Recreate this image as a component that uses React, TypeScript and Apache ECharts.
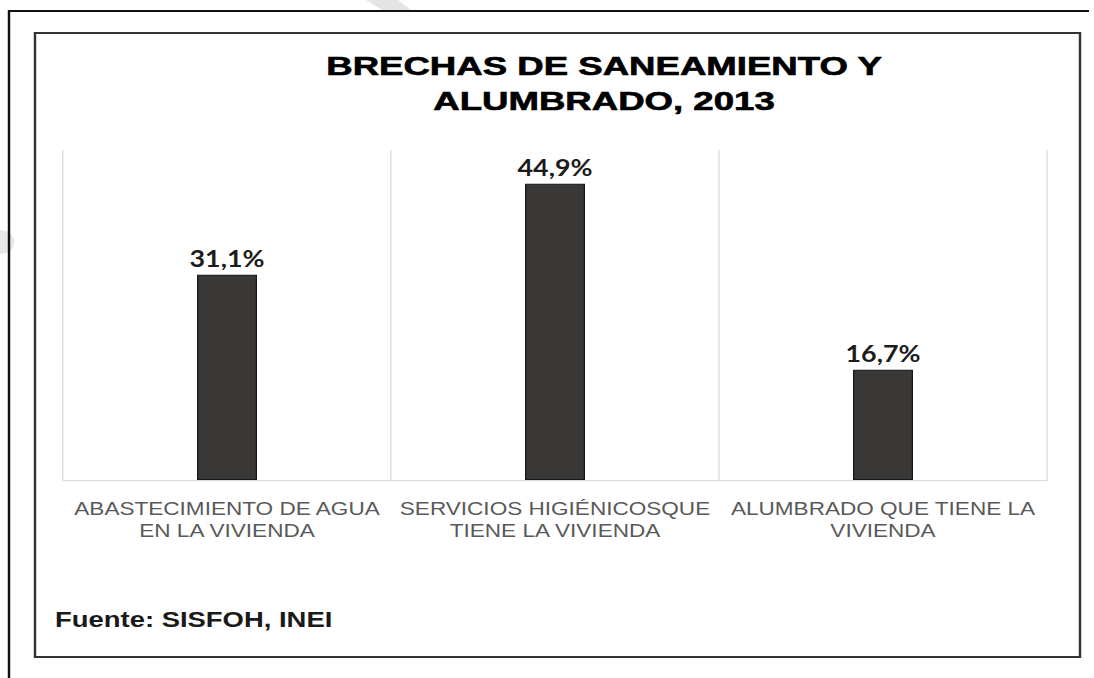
import React, { useEffect, useRef } from "react";
import * as echarts from "echarts";

const categories = [
  "ABASTECIMIENTO DE AGUA\nEN LA VIVIENDA",
  "SERVICIOS HIGIÉNICOSQUE\nTIENE LA VIVIENDA",
  "ALUMBRADO QUE TIENE LA\nVIVIENDA",
];
const values = [31.1, 44.9, 16.7];
const titleLines = ["BRECHAS DE SANEAMIENTO Y", "ALUMBRADO, 2013"];
const sourceText = "Fuente: SISFOH, INEI";

const PAGE_W = 1094;
const PAGE_H = 678;
const CW = 897; // chart width before horizontal stretch
const S = PAGE_W / CW; // horizontal stretch of the reference picture

export default function App() {
  const ref = useRef<HTMLDivElement>(null);

  useEffect(() => {
    if (!ref.current) return;
    const chart = echarts.init(ref.current, undefined, { renderer: "svg" });
    const fmt = (v: number) => v.toFixed(1).replace(".", ",") + "%";
    chart.setOption({
      animation: false,
      grid: {
        left: 63 / S,
        right: CW - 1047 / S,
        top: 150,
        bottom: PAGE_H - 480,
        containLabel: false,
      },
      xAxis: {
        type: "category",
        data: categories,
        axisLine: { show: true, lineStyle: { color: "#d9d9d9", width: 1 } },
        axisTick: { show: false },
        splitLine: { show: true, interval: 0, lineStyle: { color: "#d9d9d9", width: 1 } },
        axisLabel: {
          interval: 0,
          margin: 17,
          color: "#595959",
          fontFamily: "Liberation Sans, Arial, sans-serif",
          fontSize: 18.5,
          lineHeight: 22,
        },
      },
      yAxis: {
        type: "value",
        min: 0,
        max: 50,
        show: false,
        splitLine: { show: false },
      },
      series: [
        {
          type: "bar",
          data: values,
          barWidth: 60 / S,
          silent: true,
          itemStyle: { color: "#3a3836", borderColor: "#161616", borderWidth: 1 },
          label: {
            show: true,
            position: "top",
            distance: 5,
            formatter: (p: any) => fmt(p.value),
            color: "#1c1c1c",
            fontFamily: "Lato, sans-serif",
            fontWeight: "bold",
            fontSize: 22,
          },
        },
      ],
      graphic: [
        {
          type: "circle",
          z: -10,
          shape: { cx: 0, cy: 242, r: 12 },
          style: { fill: "#e8e8e8" },
          silent: true,
        },
        {
          type: "polygon",
          z: -10,
          shape: {
            points: [
              [366 / S, 0],
              [398 / S, 0],
              [412 / S, 11],
              [384 / S, 11],
            ],
          },
          style: { fill: "#e4e4e4" },
          silent: true,
        },
        {
          type: "line",
          shape: { x1: 9 / S, y1: 10, x2: 9 / S, y2: PAGE_H + 10 },
          style: { stroke: "#111111", lineWidth: 2 },
          silent: true,
        },
        {
          type: "line",
          shape: { x1: 9 / S, y1: 11, x2: 1089 / S, y2: 11 },
          style: { stroke: "#111111", lineWidth: 2 },
          silent: true,
        },
        {
          type: "rect",
          shape: { x: 35 / S, y: 33, width: (1080 - 35) / S, height: 657 - 33 },
          style: { fill: "none", stroke: "#333333", lineWidth: 2 },
          silent: true,
        },
        {
          type: "text",
          x: 604 / S,
          y: 84,
          scaleX: 1.2,
          silent: true,
          style: {
            text: titleLines.join("\n"),
            align: "center",
            verticalAlign: "middle",
            fontFamily: "Liberation Sans, Arial, sans-serif",
            fontWeight: "bold",
            fontSize: 25,
            lineHeight: 35,
            fill: "#000000",
            stroke: "#000000",
            lineWidth: 0.6,
          },
        },
        {
          type: "text",
          x: 55 / S,
          y: 619,
          silent: true,
          style: {
            text: sourceText,
            align: "left",
            verticalAlign: "middle",
            fontFamily: "Liberation Sans, Arial, sans-serif",
            fontWeight: "bold",
            fontSize: 22.5,
            fill: "#1a1a1a",
          },
        },
      ],
    });
    return () => chart.dispose();
  }, []);

  return (
    <div
      style={{
        position: "fixed",
        left: 0,
        top: 0,
        width: PAGE_W,
        height: PAGE_H,
        overflow: "hidden",
        background: "#ffffff",
      }}
    >
      <div
        ref={ref}
        style={{
          width: CW,
          height: PAGE_H,
          transform: `scaleX(${S})`,
          transformOrigin: "0 0",
        }}
      />
    </div>
  );
}
